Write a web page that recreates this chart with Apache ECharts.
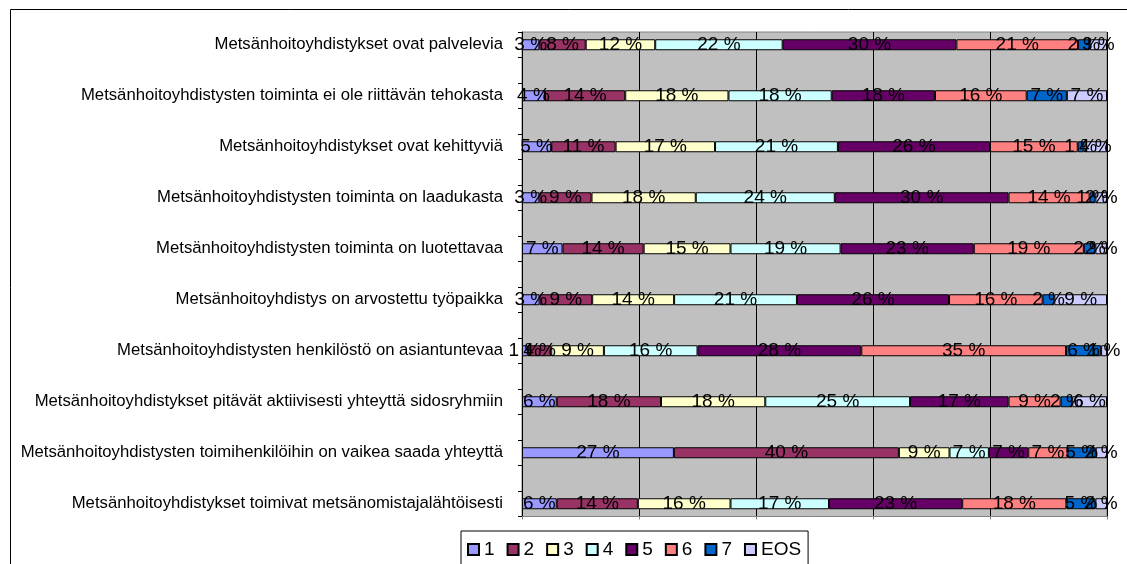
<!DOCTYPE html>
<html>
<head>
<meta charset="utf-8">
<script src="https://cdn.jsdelivr.net/npm/echarts@6/dist/echarts.min.js"></script>
<style>
  html, body { margin: 0; padding: 0; background: #fff; }
</style>
</head>
<body>
<div id="main" style="width: 1127px;height:564px;"></div>
<script>
// kategoriat ylhäältä alas
const categories = [
  "Metsänhoitoyhdistykset ovat palvelevia",
  "Metsänhoitoyhdistysten toiminta ei ole riittävän tehokasta",
  "Metsänhoitoyhdistykset ovat kehittyviä",
  "Metsänhoitoyhdistysten toiminta on laadukasta",
  "Metsänhoitoyhdistysten toiminta on luotettavaa",
  "Metsänhoitoyhdistys on arvostettu työpaikka",
  "Metsänhoitoyhdistysten henkilöstö on asiantuntevaa",
  "Metsänhoitoyhdistykset pitävät aktiivisesti yhteyttä sidosryhmiin",
  "Metsänhoitoyhdistysten toimihenkilöihin on vaikea saada yhteyttä",
  "Metsänhoitoyhdistykset toimivat metsänomistajalähtöisesti"
]
const seriesNames = ["1", "2", "3", "4", "5", "6", "7", "EOS"]

// prosentit (kuten datalabeleissa)
const v1 = [3, 4, 5, 3, 7, 3, 1, 6, 27, 6]
const v2 = [8, 14, 11, 9, 14, 9, 4, 18, 40, 14]
const v3 = [12, 18, 17, 18, 15, 14, 9, 18, 9, 16]
const v4 = [22, 18, 21, 24, 19, 21, 16, 25, 7, 17]
const v5 = [30, 18, 26, 30, 23, 26, 28, 17, 7, 23]
const v6 = [21, 16, 15, 14, 19, 16, 35, 9, 7, 18]
const v7 = [2, 7, 1, 1, 2, 2, 6, 2, 5, 5]
const vEOS = [3, 7, 4, 2, 2, 9, 1, 6, 2, 2]

const values = [v1, v2, v3, v4, v5, v6, v7, vEOS]
const colors = ["#9999FF", "#993366", "#FFFFCC", "#CCFFFF", "#660066", "#FF8080", "#0066CC", "#CCCCFF"]

// rivisummat -> 100 % pinottu
const rowSums = categories.map((c, i) => values.reduce((s, arr) => s + arr[i], 0))

// tyhjä rivi jokaisen kategorian väliin (kuten alkuperäisessä)
const axisCats = []
categories.forEach((c, i) => {
  axisCats.push(c)
  if (i < categories.length - 1) axisCats.push("gap" + i)
})

const font = "'Liberation Sans', Arial, sans-serif"

var myChart = echarts.init(document.getElementById("main"))

const series = values.map((arr, s) => {
  const data = []
  arr.forEach((v, i) => {
    data.push(v / rowSums[i] * 100)
    if (i < arr.length - 1) data.push("-")
  })
  return {
    name: seriesNames[s],
    type: "bar",
    stack: "total",
    barWidth: 11,
    itemStyle: { color: colors[s], borderColor: "#000", borderWidth: 1 },
    label: {
      show: true,
      position: "inside",
      color: "#000",
      fontFamily: font,
      fontSize: 19,
      textBorderWidth: 0,
      formatter: p => arr[p.dataIndex / 2] + " %"
    },
    emphasis: { disabled: true },
    data: data
  }
})

const options = {
  animation: false,
  grid: {
    left: 522,
    right: 20,
    top: 32,
    bottom: 47.5,
    show: true,
    backgroundColor: "#C0C0C0",
    borderColor: "#808080",
    borderWidth: 1
  },
  legend: {
    data: seriesNames,
    left: 461,
    top: 531,
    icon: "rect",
    itemWidth: 11,
    itemHeight: 11,
    itemGap: 12,
    padding: [9, 7, 12, 6],
    borderColor: "#000",
    borderWidth: 1,
    backgroundColor: "#fff",
    textStyle: { fontFamily: font, fontSize: 19, color: "#000" }
  },
  xAxis: {
    type: "value",
    min: 0,
    max: 100,
    interval: 20,
    axisLine: { show: true, lineStyle: { color: "#808080" } },
    axisTick: { show: true, length: 3, lineStyle: { color: "#808080" } },
    axisLabel: { show: false },
    splitLine: { show: true, lineStyle: { color: "#000", width: 1 } }
  },
  yAxis: {
    type: "category",
    inverse: true,
    data: axisCats,
    axisLine: { show: true, lineStyle: { color: "#000" } },
    axisTick: { show: true, interval: 0, length: 4, lineStyle: { color: "#000" } },
    axisLabel: {
      interval: 0,
      margin: 19,
      color: "#000",
      fontFamily: font,
      fontSize: 16.7,
      formatter: (v, i) => (i % 2 ? "" : v)
    }
  },
  graphic: [
    {
      type: "rect",
      silent: true,
      shape: { x: 10.5, y: 9.5, width: 1400, height: 900 },
      style: { fill: null, stroke: "#000", lineWidth: 1 }
    }
  ],
  series: series
}

myChart.setOption(options)
</script>
</body>
</html>
